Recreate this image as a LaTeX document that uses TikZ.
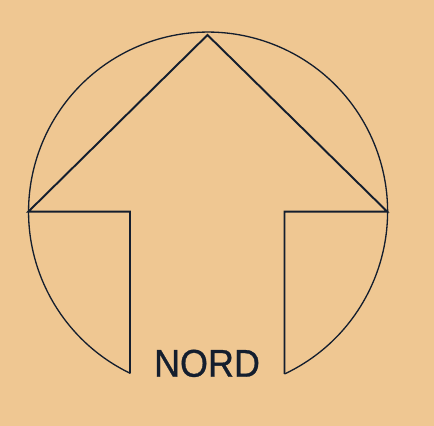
\documentclass[tikz,border=0pt]{standalone}
\usepackage{fontspec}
\newfontfamily\nordfont[FakeBold=0.8]{Liberation Sans}
\usepackage{tikz}
\usetikzlibrary{positioning}

\definecolor{paper}{RGB}{239,199,146}
\definecolor{ink}{RGB}{20,30,46}

\begin{document}
\begin{tikzpicture}[x=0.02cm,y=0.02cm,
    rim/.style={draw=ink,line width=0.75pt},
    outline/.style={draw=ink,line width=1.1pt,line join=miter}]
      % paper
      \fill[paper] (0,0) rectangle (434,426);

      % points of the arrow
      \coordinate (ctr) at (207.8,213.2);
      \coordinate (tip) at (207.5,391);
      \coordinate (lwing) at (28.3,214.3);
      \coordinate (rwing) at (387.3,214.3);
      \coordinate (linner) at (130,214.3);
      \coordinate (rinner) at (284.5,214.3);
      \coordinate (lfoot) at (130,52.5);
      \coordinate (rfoot) at (284.5,52);

      % circle, open at the bottom
      \draw[rim] (rfoot) arc[start angle=-64.8, end angle=244.3, radius=179.5];

      % arrow
      \draw[outline] (lfoot) -- (linner) -- (lwing) -- (tip) -- (rwing) -- (rinner) -- (rfoot);

      \node[anchor=base,text=ink,font=\nordfont\fontsize{22}{22}\selectfont,xscale=0.93,inner sep=0pt] (nord) at (207,49.3) {NORD};
\end{tikzpicture}
\end{document}
